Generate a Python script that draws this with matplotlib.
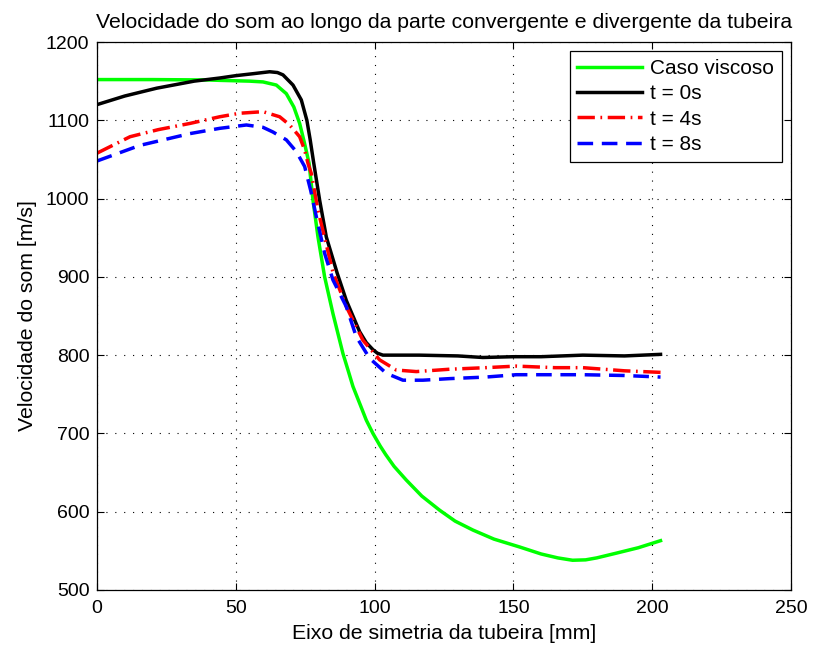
import numpy as np
import matplotlib
matplotlib.use("Agg")
import matplotlib.pyplot as plt

plt.rcParams['font.family'] = ['Liberation Sans', 'DejaVu Sans']

# Caso viscoso (green)
x_visc = [0, 20, 40, 44.2, 55, 59.8, 64.6, 68.2, 70.9, 73, 74.8, 76.4, 77.8, 79.6, 82, 85, 88.6,
          90.5, 92.2, 95, 97, 99.4, 102, 104, 107, 111.4, 117, 123.4, 129, 135.4, 143, 152.2,
          160, 166, 171.3, 176, 180, 187, 195, 203]
y_visc = [1152, 1152, 1151.5, 1151, 1150, 1149, 1145, 1134, 1117, 1096, 1070, 1045, 998, 951,
          900, 853, 802, 780, 760, 735, 717, 700, 684, 673, 658, 640.5, 620, 602, 588, 576.6,
          565, 555, 546, 541, 538, 538.5, 541, 547, 554, 563]

# t = 0s (black)
x_t0 = [0, 10, 21.5, 35, 44.2, 50, 56.2, 62.2, 65, 67, 70.6, 73.6, 75.6, 76.8, 78, 80.2, 82.6,
        86.5, 89.8, 94.6, 97, 99.4, 101, 103, 110, 116, 130, 139, 150, 160, 175, 190, 203]
y_t0 = [1120, 1131, 1141, 1150, 1154, 1157, 1159.5, 1162, 1161, 1158, 1145, 1126, 1100, 1075,
        1047, 998, 951, 905, 870, 830, 816, 807, 802.5, 800, 800, 800, 799, 797, 798, 798, 800,
        799, 801]

# t = 4s (red)
x_t4 = [0, 11.9, 22, 33.5, 44.2, 51.4, 59.8, 65.8, 69.4, 73, 74.8, 76, 77.2, 79.6, 82, 85, 89.8,
        95.8, 101.8, 107.8, 115, 127, 140, 151, 165, 175, 190, 203]
y_t4 = [1058, 1079, 1088, 1096, 1104.5, 1109, 1111, 1104.5, 1094, 1079, 1062, 1045, 1032, 985,
        950, 906, 862, 819, 794, 781, 779, 782, 784, 786, 784, 784, 780, 778]

# t = 8s (blue)
x_t8 = [0, 15.5, 33.5, 44.2, 53.8, 59.8, 63.4, 68.2, 71.8, 74.8, 77, 79, 82, 85, 89.8, 93.4,
        98.2, 104.2, 110.2, 117.4, 127, 140, 151, 165, 175, 190, 203]
y_t8 = [1048, 1068, 1083, 1089.7, 1094, 1091, 1085, 1075, 1060, 1041, 1010, 977, 930, 896, 862,
        823.5, 796, 776.8, 768, 768, 770, 772, 775, 775, 775, 774, 772]

fig = plt.figure(figsize=(8.13, 6.5), dpi=100)
ax = fig.add_axes([97/813, 60/650, 694/813, 548/650])

lw = 2.5
ax.plot(x_visc, y_visc, color='#00ff00', lw=lw, label='Caso viscoso', solid_joinstyle='round')
ax.plot(x_t0, y_t0, color='black', lw=lw, label='t = 0s', solid_joinstyle='round')
ax.plot(x_t4, y_t4, color='red', lw=lw, linestyle=(0, (5, 1.6, 0.5, 1.6)), label='t = 4s')
ax.plot(x_t8, y_t8, color='blue', lw=lw, linestyle=(0, (4.5, 2.5)), label='t = 8s')

ax.set_xlim(0, 250)
ax.set_ylim(500, 1200)
ax.set_xticks([0, 50, 100, 150, 200, 250])
ax.set_yticks([500, 600, 700, 800, 900, 1000, 1100, 1200])
ax.grid(True, color='black', linestyle=(0, (1, 7)), linewidth=0.8)
ax.tick_params(direction='in', length=5, labelsize=14, top=True, right=True, colors='black')
ax.tick_params(axis='x', pad=7)
ax.tick_params(axis='y', pad=5.5)
for s in ax.spines.values():
    s.set_linewidth(0.9)

ax.set_title('Velocidade do som ao longo da parte convergente e divergente da tubeira',
             fontsize=15.3, pad=10)
ax.set_xlabel('Eixo de simetria da tubeira [mm]', fontsize=15.3, labelpad=5.5)
ax.set_ylabel('Velocidade do som [m/s]', fontsize=15.3, labelpad=6.5)

leg = ax.legend(loc='upper right', fontsize=15, fancybox=False, edgecolor='black',
                framealpha=1, handlelength=3.1, borderaxespad=0.45, labelspacing=0.31,
                handletextpad=0.4, borderpad=0.36)
leg.get_frame().set_linewidth(0.9)

fig.savefig('out.png', dpi=100)
